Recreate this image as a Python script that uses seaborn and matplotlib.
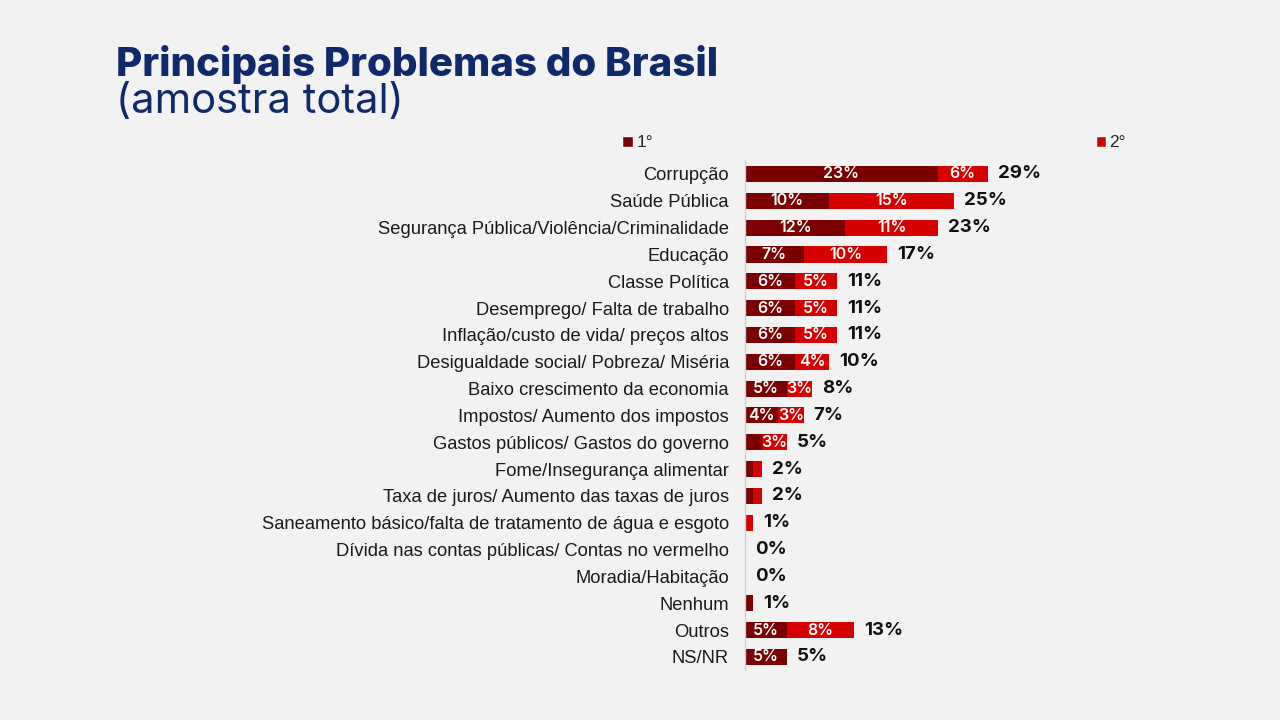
import numpy as np
import pandas as pd
import matplotlib.pyplot as plt
import seaborn as sns
from matplotlib.patches import Patch

# Principais problemas do Brasil - 1a e 2a mencao
categorias = [
    "Corrupção", "Saúde Pública", "Segurança Pública/Violência/Criminalidade",
    "Educação", "Classe Política", "Desemprego/ Falta de trabalho",
    "Inflação/custo de vida/ preços altos", "Desigualdade social/ Pobreza/ Miséria",
    "Baixo crescimento da economia", "Impostos/ Aumento dos impostos",
    "Gastos públicos/ Gastos do governo", "Fome/Insegurança alimentar",
    "Taxa de juros/ Aumento das taxas de juros",
    "Saneamento básico/falta de tratamento de água e esgoto",
    "Dívida nas contas públicas/ Contas no vermelho", "Moradia/Habitação",
    "Nenhum", "Outros", "NS/NR",
]
primeiro = [23, 10, 12, 7, 6, 6, 6, 6, 5, 4, 2, 1, 1, 0, 0, 0, 1, 5, 5]
segundo = [6, 15, 11, 10, 5, 5, 5, 4, 3, 3, 3, 1, 1, 1, 0, 0, 0, 8, 0]
total = [29, 25, 23, 17, 11, 11, 11, 10, 8, 7, 5, 2, 2, 1, 0, 0, 1, 13, 5]

df = pd.DataFrame({"categoria": categorias, "primeiro": primeiro,
                   "segundo": segundo, "total": total})

BG = "#f2f2f2"
DARK = "#7b0000"
RED = "#d60000"
NAVY = "#10296b"

sns.set_theme(style="white", rc={"axes.facecolor": BG, "figure.facecolor": BG})
plt.rcParams["font.family"] = ["Liberation Sans", "DejaVu Sans"]

fig = plt.figure(figsize=(12.8, 7.2), dpi=100)
ax = fig.add_axes([0.582, 0.069, 0.301, 0.708])

# stacked: total bar in red, first mention on top in dark red
sns.barplot(data=df, x="total", y="categoria", color=RED, saturation=1,
            width=0.6, errorbar=None, linewidth=0, ax=ax)
sns.barplot(data=df, x="primeiro", y="categoria", color=DARK, saturation=1,
            width=0.6, errorbar=None, linewidth=0, ax=ax)

for i, row in df.iterrows():
    a, b, t = row["primeiro"], row["segundo"], row["total"]
    if a >= 3:
        ax.text(a / 2, i, f"{a}%", ha="center", va="center", color="white",
                fontsize=11.5, fontweight="semibold", family="Inter")
    if b >= 3:
        ax.text(a + b / 2, i, f"{b}%", ha="center", va="center", color="white",
                fontsize=11.5, fontweight="semibold", family="Inter")
    ax.text(t + 1.2, i, f"{t}%", ha="left", va="center", color="#111111",
            fontsize=13.5, fontweight="bold", family="Inter")

ax.set_xlim(0, 46)
ax.set_ylim(18.5, -0.5)
ax.set_xlabel("")
ax.set_ylabel("")
ax.set_xticks([])
ax.tick_params(axis="y", length=0, pad=11.5, labelsize=13.2, labelcolor="#1a1a1a")
for s in ["top", "right", "bottom"]:
    ax.spines[s].set_visible(False)
ax.spines["left"].set_color("#cfcfcf")
ax.spines["left"].set_linewidth(1)

handles = [Patch(facecolor=DARK, label="1°"), Patch(facecolor=RED, label="2°")]
ax.legend(handles=handles, ncol=2, loc="lower left",
          bbox_to_anchor=(-0.345, 1.0), frameon=False, fontsize=12.5,
          handlelength=0.6, handleheight=0.6, handletextpad=0.2,
          columnspacing=25.5, borderaxespad=0.2)

fig.text(0.091, 0.895, "Principais Problemas do Brasil", fontsize=29,
         fontweight=800, color=NAVY, family="Inter", va="baseline")
fig.text(0.091, 0.843, "(amostra total)", fontsize=30, color=NAVY,
         family="Inter", va="baseline")

plt.savefig("out.png", dpi=100, facecolor=BG)
